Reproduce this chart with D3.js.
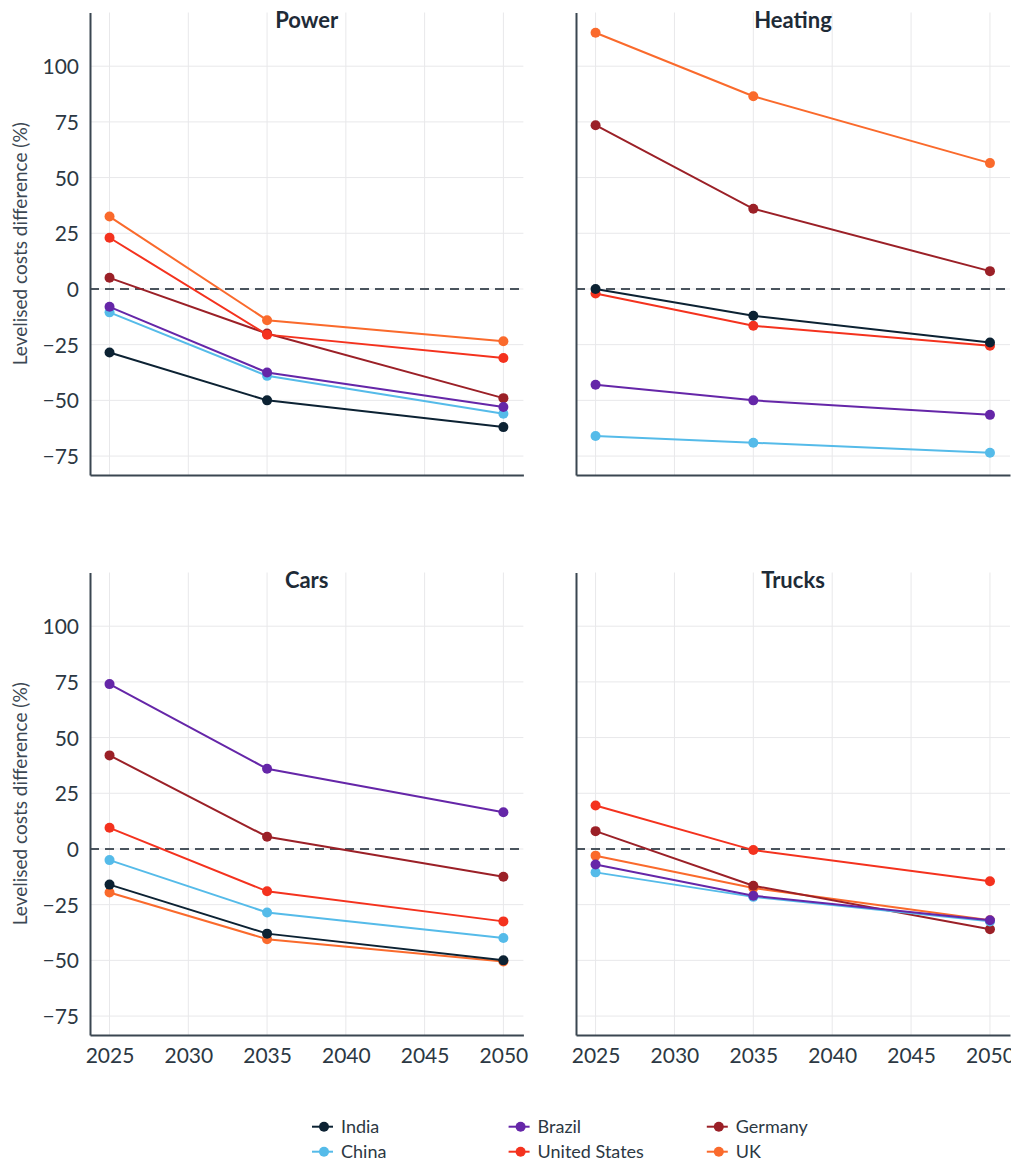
<!DOCTYPE html>
<html><head><meta charset="utf-8">
<script src="https://cdn.jsdelivr.net/npm/d3@7"></script>
<style>
body{margin:0;background:#fff}
svg{display:block}
text{font-family:Lato,"Open Sans",sans-serif}
</style>
</head><body>
<svg id="chart" width="1011" height="1167"></svg>
<script>
// ---- data ----
const years = [2025, 2035, 2050];
const xTicks = [2025, 2030, 2035, 2040, 2045, 2050];
const yTicks = [-75, -50, -25, 0, 25, 50, 75, 100];
const sectors = ["Power", "Heating", "Cars", "Trucks"];
const countries = ["India", "China", "Brazil", "United States", "Germany", "UK"];
const countryColors = ["#0c2233", "#55bbe9", "#6526a8", "#f4321e", "#9b2027", "#fa6a2c"];
// values per country (same order as countries), per year 2025/2035/2050
const powerValues = [
  [-28.5, -50, -62],
  [-10.5, -39, -56],
  [-8, -37.5, -53],
  [23, -20.5, -31],
  [5, -20, -49],
  [32.5, -14, -23.5]
];
const heatingValues = [
  [0, -12, -24],
  [-66, -69, -73.5],
  [-43, -50, -56.5],
  [-2, -16.5, -25.5],
  [73.5, 36, 8],
  [115, 86.5, 56.5]
];
const carsValues = [
  [-16, -38, -50],
  [-5, -28.5, -40],
  [74, 36, 16.5],
  [9.5, -19, -32.5],
  [42, 5.5, -12.5],
  [-19.5, -40.5, -50.5]
];
const trucksValues = [
  [null, null, null],
  [-10.5, -21.5, -32.5],
  [-7, -21, -32],
  [19.5, -0.5, -14.5],
  [8, -16.5, -36],
  [-3, -17.5, -32]
];
const sectorValues = [powerValues, heatingValues, carsValues, trucksValues];
const drawOrder = ["UK", "Germany", "United States", "China", "Brazil", "India"];
const legendColumns = [["India", "China"], ["Brazil", "United States"], ["Germany", "UK"]];
const yLabel = "Levelised costs difference (%)";

// ---- layout ----
const svg = d3.select("#chart");
const colX = [[90, 523.4], [576, 1010]];
const rowY = [[12.5, 475], [572.5, 1035]];
const xDomain = [2023.76, 2051.27];
const yDomain = [-83.5, 124.1];
const textColor = "#2c3843";
const axisColor = "#3a4651";
const color = d3.scaleOrdinal().domain(countries).range(countryColors);

sectors.forEach((sector, si) => {
  const col = si % 2, row = Math.floor(si / 2);
  const x = d3.scaleLinear().domain(xDomain).range(colX[col]);
  const y = d3.scaleLinear().domain(yDomain).range([rowY[row][1], rowY[row][0]]);
  const g = svg.append("g");

  // grid
  g.append("g").selectAll("line").data(yTicks).join("line")
    .attr("x1", colX[col][0]).attr("x2", colX[col][1])
    .attr("y1", d => y(d)).attr("y2", d => y(d))
    .attr("stroke", "#e8e8ea").attr("stroke-width", 1);
  g.append("g").selectAll("line").data(xTicks).join("line")
    .attr("x1", d => x(d)).attr("x2", d => x(d))
    .attr("y1", rowY[row][0]).attr("y2", rowY[row][1])
    .attr("stroke", "#e8e8ea").attr("stroke-width", 1);

  // zero dashed line
  g.append("line")
    .attr("x1", colX[col][0]).attr("x2", colX[col][1])
    .attr("y1", y(0)).attr("y2", y(0))
    .attr("stroke", "#4a545d").attr("stroke-width", 2)
    .attr("stroke-dasharray", "9,6");

  // y axis
  const ya = g.append("g").attr("transform", `translate(${colX[col][0]},0)`)
    .call(d3.axisLeft(y).tickValues(yTicks).tickSize(0).tickSizeOuter(0).tickPadding(11)
      .tickFormat(col === 0 ? d3.format("d") : () => ""));
  ya.select(".domain").attr("stroke", axisColor).attr("stroke-width", 2);
  ya.selectAll("text").attr("fill", textColor).attr("font-size", 21).attr("dy", "0.36em")
    .style("font-family", "Lato, sans-serif");

  // x axis
  const xa = g.append("g").attr("transform", `translate(0,${rowY[row][1]})`)
    .call(d3.axisBottom(x).tickValues(xTicks).tickSize(0).tickSizeOuter(0)
      .tickFormat(row === 1 ? d3.format("d") : () => ""));
  xa.select(".domain").attr("stroke", axisColor).attr("stroke-width", 2);
  xa.selectAll("text").attr("fill", textColor).attr("font-size", 21)
    .attr("y", 28).attr("dy", 0).style("font-family", "Lato, sans-serif");

  // title
  g.append("text")
    .attr("x", (colX[col][0] + colX[col][1]) / 2).attr("y", rowY[row][0] + 15.5)
    .attr("text-anchor", "middle").attr("font-size", 22).attr("font-weight", 700)
    .attr("fill", "#1e2b37").text(sector);

  // y label
  if (col === 0) {
    const cy = (rowY[row][0] + rowY[row][1]) / 2;
    g.append("text")
      .attr("transform", `translate(27,${cy}) rotate(-90)`)
      .attr("text-anchor", "middle").attr("font-size", 19)
      .attr("fill", "#3c4853").text(yLabel);
  }

  // lines and points
  const line = d3.line().defined(d => d.v != null).x(d => x(d.year)).y(d => y(d.v));
  drawOrder.forEach(c => {
    const ci = countries.indexOf(c);
    const pts = years.map((yr, i) => ({ year: yr, v: sectorValues[si][ci][i] })).filter(d => d.v != null);
    if (!pts.length) return;
    g.append("path").datum(pts).attr("d", line)
      .attr("fill", "none").attr("stroke", color(c)).attr("stroke-width", 2);
    g.append("g").selectAll("circle").data(pts).join("circle")
      .attr("cx", d => x(d.year)).attr("cy", d => y(d.v)).attr("r", 5)
      .attr("fill", color(c));
  });
});

// legend
const legX = [312, 508.6, 706.8];
const legY = [1126.7, 1151.7];
const lg = svg.append("g");
legendColumns.forEach((colItems, ci) => {
  colItems.forEach((c, ri) => {
    const gx = legX[ci], gy = legY[ri];
    lg.append("line").attr("x1", gx).attr("x2", gx + 21).attr("y1", gy).attr("y2", gy)
      .attr("stroke", color(c)).attr("stroke-width", 2);
    lg.append("circle").attr("cx", gx + 12).attr("cy", gy).attr("r", 5).attr("fill", color(c));
    lg.append("text").attr("x", gx + 29).attr("y", gy).attr("dy", "0.35em")
      .attr("font-size", 18).attr("fill", textColor).text(c);
  });
});
</script>
</body></html>
